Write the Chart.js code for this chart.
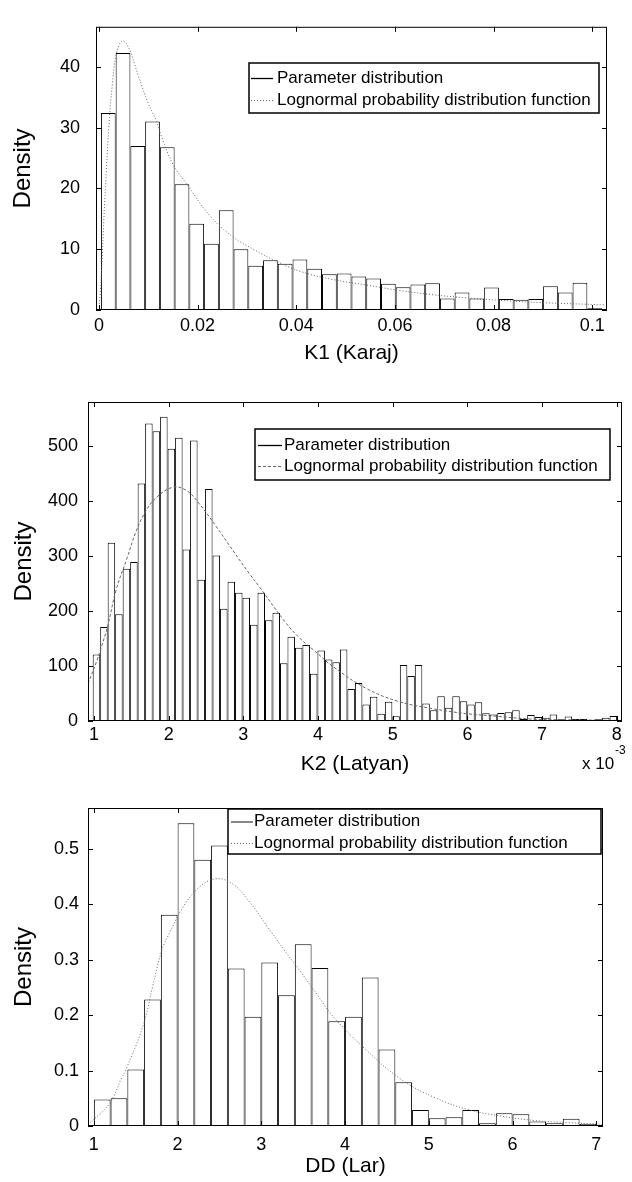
<!DOCTYPE html>
<html>
<head>
<meta charset="utf-8">
<script src="https://cdn.jsdelivr.net/npm/chart.js@4.4.0/dist/chart.umd.min.js"></script>
<style>
  body { margin: 0; background: #fff; }
  canvas { position: absolute; left: 0; }
</style>
</head>
<body>
<canvas id="k1Chart" width="632" height="370" style="top:0px"></canvas>
<canvas id="k2Chart" width="632" height="400" style="top:380px"></canvas>
<canvas id="ddChart" width="632" height="402" style="top:780px"></canvas>
<script>
const FONT = "'Liberation Sans', Arial, Helvetica, sans-serif";

// K1 (Karaj): 34 bins between 0.0004 and 0.1020
const k1BinRange = [0.0004, 0.1020];
const k1Heights = [32.4, 42.3, 27.0, 31.0, 26.8, 20.7, 14.2, 10.9, 16.4, 10.0,
                   7.3, 8.2, 7.6, 8.3, 6.8, 5.9, 6.0, 5.5, 5.2, 4.3,
                   3.75, 4.2, 4.4, 1.9, 2.9, 1.9, 3.7, 1.8, 1.7, 1.8,
                   3.9, 2.9, 4.5, 0.3];
const k1CurveX = [0, 0.0005, 0.001, 0.0015, 0.002, 0.0027, 0.0035, 0.0047, 0.006, 0.008, 0.010, 0.0117,
                  0.0127, 0.015, 0.018, 0.0225, 0.0272, 0.0313, 0.036, 0.041, 0.0475, 0.0543,
                  0.061, 0.0678, 0.0745, 0.0813, 0.090, 0.1025];
const k1CurveY = [0, 6, 15, 23, 30, 37, 42, 44.3, 43.2, 38.5, 34, 31,
                  28.5, 24, 20.5, 15.5, 12, 10, 8, 6.3, 5, 4.1,
                  3.2, 2.5, 2.0, 1.6, 1.2, 0.85];

// K2 (Latyan), x in units of 1e-3: 70 bins between 0.983 and 8.004
const k2BinRange = [0.983, 8.004];
const k2Heights = [121, 171, 324, 194, 277, 289, 432, 541, 527, 553,
                   495, 515, 312, 510, 257, 422, 301, 204, 253, 233,
                   224, 175, 233, 183, 197, 105, 153, 133, 138, 86,
                   128, 112, 107, 130, 58, 69, 30, 44, 13, 35,
                   8.5, 102, 82, 102, 32, 19.5, 45, 24, 45, 36,
                   30, 34, 14, 11.6, 14.5, 15.8, 19.5, 3.6, 11, 7.3,
                   6, 11.6, 3, 8, 3.6, 3.6, 2.4, 3, 6, 9];
const k2CurveX = [0.92, 1.04, 1.10, 1.18, 1.30, 1.44, 1.57, 1.70, 1.84, 2.06, 2.24, 2.41, 2.64,
                  2.86, 3.08, 3.21, 3.56, 3.76, 3.95, 4.21, 4.65, 5.09, 5.53, 5.98, 6.41, 6.85, 7.4, 8.07];
const k2CurveY = [68, 110, 135, 171, 240, 295, 347, 383, 407, 425, 419, 395, 353,
                  310, 268, 245, 180, 150, 128, 98, 59, 35, 22.5, 13.5, 8.5, 3.6, 2, 1];

// DD (Lar): 30 bins between 1 and 7
const ddBinRange = [1.0, 7.0];
const ddHeights = [0.048, 0.050, 0.102, 0.228, 0.381, 0.546, 0.480, 0.506, 0.284, 0.197,
                   0.295, 0.236, 0.328, 0.285, 0.189, 0.197, 0.268, 0.138, 0.079, 0.029,
                   0.014, 0.016, 0.029, 0.005, 0.023, 0.021, 0.008, 0.005, 0.013, 0.004];
const ddCurveX = [0.93, 1.0, 1.19, 1.33, 1.39, 1.59, 1.70, 1.81, 1.91, 2.07, 2.27, 2.47, 2.67, 2.87,
                  3.07, 3.27, 3.47, 3.67, 3.86, 4.26, 4.66, 5.06, 5.46, 5.86, 6.26, 6.66, 7.09];
const ddCurveY = [0.004, 0.012, 0.041, 0.086, 0.104, 0.182, 0.25, 0.316, 0.35, 0.396, 0.432, 0.446, 0.435, 0.402,
                  0.36, 0.318, 0.278, 0.236, 0.197, 0.136, 0.085, 0.052, 0.030, 0.018, 0.010, 0.006, 0.003];

const barLabel = 'Parameter distribution';
const curveLabel = 'Lognormal probability distribution function';

function toBins(range, heights) {
  const w = (range[1] - range[0]) / heights.length;
  return heights.map((h, i) => ({ x: range[0] + (i + 0.5) * w, y: h }));
}
function toPoints(xs, ys) {
  return xs.map((x, i) => ({ x: x, y: ys[i] }));
}
const fmt = v => String(+Number(v).toFixed(4));

// box, inward ticks, legend, extra text
const framePlugin = {
  id: 'frame',
  afterDraw(chart, args, o) {
    const { ctx, chartArea: a, scales: { x, y } } = chart;
    ctx.save();
    ctx.strokeStyle = '#000';
    ctx.lineWidth = 1;
    ctx.strokeRect(a.left + 0.5, a.top + 0.5, a.width - 1, a.height - 1);
    ctx.beginPath();
    const t = 5;
    x.ticks.forEach(tk => {
      const px = Math.round(x.getPixelForValue(tk.value)) + 0.5;
      ctx.moveTo(px, a.bottom); ctx.lineTo(px, a.bottom - t);
      ctx.moveTo(px, a.top); ctx.lineTo(px, a.top + t);
    });
    y.ticks.forEach(tk => {
      const py = Math.round(y.getPixelForValue(tk.value)) + 0.5;
      ctx.moveTo(a.left, py); ctx.lineTo(a.left + t, py);
      ctx.moveTo(a.right, py); ctx.lineTo(a.right - t, py);
    });
    ctx.stroke();

    // legend
    const L = o.legend;
    ctx.fillStyle = '#fff';
    ctx.fillRect(L.x1, L.y1, L.x2 - L.x1, L.y2 - L.y1);
    ctx.lineWidth = 1.5;
    ctx.strokeStyle = '#000';
    ctx.strokeRect(L.x1, L.y1, L.x2 - L.x1, L.y2 - L.y1);
    const ds = chart.data.datasets;
    const rows = [ds[1], ds[0]];
    rows.forEach((d, i) => {
      const ry = L.rows[i];
      ctx.beginPath();
      ctx.lineWidth = i === 0 ? 1.3 : 1;
      ctx.strokeStyle = i === 0 ? L.solid : '#666';
      ctx.setLineDash(i === 0 ? [] : o.dash);
      ctx.moveTo(L.lx1, ry + 0.5); ctx.lineTo(L.lx2, ry + 0.5);
      ctx.stroke();
      ctx.setLineDash([]);
      ctx.fillStyle = '#000';
      ctx.font = '17px ' + FONT;
      ctx.textBaseline = 'middle';
      ctx.textAlign = 'left';
      ctx.fillText(d.label, L.tx, ry);
    });

    (o.extra || []).forEach(e => {
      ctx.fillStyle = '#000';
      ctx.font = e.size + 'px ' + FONT;
      ctx.textBaseline = 'middle';
      ctx.textAlign = 'left';
      ctx.fillText(e.text, e.x, e.y);
    });
    ctx.restore();
  }
};

function histChart(id, o) {
  return new Chart(document.getElementById(id), {
    type: 'bar',
    data: {
      datasets: [
        {
          type: 'line', label: curveLabel, data: o.curve,
          borderColor: '#666', borderWidth: 1, borderDash: o.dash,
          pointRadius: 0, tension: 0.4, fill: false, order: 0
        },
        {
          label: barLabel, data: o.bars,
          backgroundColor: '#fff', borderColor: '#000',
          borderWidth: { top: 1, left: 1, right: 1, bottom: 0 },
          borderSkipped: false, inflateAmount: 0,
          barPercentage: 1, categoryPercentage: 1, order: 1
        }
      ]
    },
    options: {
      responsive: false,
      animation: false,
      events: [],
      layout: { padding: o.pad },
      plugins: {
        legend: { display: false },
        tooltip: { enabled: false },
        frame: { legend: o.legend, dash: o.dash, extra: o.extra }
      },
      scales: {
        x: {
          type: 'linear', offset: false, min: o.xmin, max: o.xmax,
          grid: { display: false, drawTicks: false }, border: { display: false },
          ticks: {
            stepSize: o.xstep, includeBounds: false, padding: o.xpad, color: '#000',
            maxRotation: 0, autoSkip: false, font: { family: FONT, size: 18 }, callback: fmt
          },
          title: {
            display: true, text: o.xtitle, color: '#000',
            font: { family: FONT, size: 21 }, padding: { top: 0, bottom: o.xtpad }
          },
          afterFit: s => { s.height = o.xh; }
        },
        y: {
          min: 0, max: o.ymax,
          grid: { display: false, drawTicks: false }, border: { display: false },
          ticks: {
            stepSize: o.ystep, includeBounds: false, padding: o.ypad, color: '#000',
            font: { family: FONT, size: 18 }, callback: fmt
          },
          title: {
            display: true, text: 'Density', color: '#000',
            font: { family: FONT, size: 24 }, padding: { top: o.ytpad, bottom: 0 }
          },
          afterFit: s => { s.width = o.yw; }
        }
      }
    },
    plugins: [framePlugin]
  });
}

histChart('k1Chart', {
  bars: toBins(k1BinRange, k1Heights),
  curve: toPoints(k1CurveX, k1CurveY),
  dash: [1, 2],
  pad: { left: 0, right: 25, top: 12, bottom: 0 },
  yw: 96, xh: 60,
  xmin: -0.0006, xmax: 0.1030, xstep: 0.02, xpad: 5, xtitle: 'K1 (Karaj)', xtpad: 4.4,
  ymax: 46.6, ystep: 10, ypad: 16, ytpad: 8.6,
  legend: { x1: 249, y1: 63, x2: 599, y2: 113, rows: [78, 100], lx1: 251, lx2: 273, tx: 277, solid: '#000' }
});

histChart('k2Chart', {
  bars: toBins(k2BinRange, k2Heights),
  curve: toPoints(k2CurveX, k2CurveY),
  dash: [3, 2],
  pad: { left: 0, right: 10, top: 22, bottom: 0 },
  yw: 88, xh: 59,
  xmin: 0.92, xmax: 8.07, xstep: 1, xpad: 3.2, xtitle: 'K2 (Latyan)', xtpad: 3.4,
  ymax: 580, ystep: 100, ypad: 10, ytpad: 9.6,
  legend: { x1: 255, y1: 49, x2: 610, y2: 100, rows: [65, 86], lx1: 258, lx2: 282, tx: 284, solid: '#000' },
  extra: [{ text: 'x 10', x: 582, y: 384, size: 17 }, { text: '-3', x: 615, y: 371, size: 12 }]
});

histChart('ddChart', {
  bars: toBins(ddBinRange, ddHeights),
  curve: toPoints(ddCurveX, ddCurveY),
  dash: [1, 2],
  pad: { left: 0, right: 29, top: 28, bottom: 0 },
  yw: 88, xh: 56,
  xmin: 0.93, xmax: 7.08, xstep: 1, xpad: 7.9, xtitle: 'DD (Lar)', xtpad: 2.9,
  ymax: 0.5735, ystep: 0.1, ypad: 9, ytpad: 9.6,
  legend: { x1: 228, y1: 29, x2: 601, y2: 74, rows: [41.5, 63], lx1: 231, lx2: 253, tx: 254, solid: '#444' }
});
</script>
</body>
</html>
